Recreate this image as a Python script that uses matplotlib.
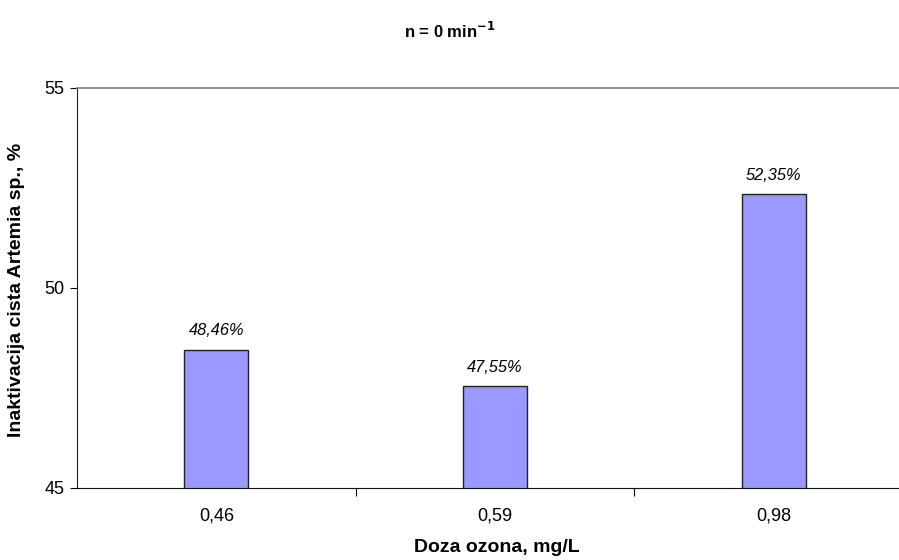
import matplotlib.pyplot as plt
import numpy as np

# data
doses = ['0,46', '0,59', '0,98']
inactivation = [48.46, 47.55, 52.35]
value_labels = ['48,46%', '47,55%', '52,35%']

plt.rcParams['font.family'] = ['Liberation Sans', 'DejaVu Sans']

fig = plt.figure(figsize=(8.99, 5.6), dpi=100)
# axes run past the right edge of the picture, like the cropped original
ax = fig.add_axes([77 / 899, 1 - 488 / 560, 836 / 899, 400 / 560])

x = np.arange(len(doses))
bars = ax.bar(x, inactivation, width=0.23, color='#9999FF',
              edgecolor='#222222', linewidth=1.0, bottom=0)

ax.set_ylim(45, 55)
ax.set_xlim(-0.5, len(doses) - 0.5)
ax.set_yticks([45, 50, 55])
ax.tick_params(axis='y', direction='out', length=5, width=0.8, labelsize=13, pad=4)

# category labels centred, ticks on category boundaries
ax.set_xticks(x)
ax.set_xticklabels(doses, fontsize=13)
ax.tick_params(axis='x', which='major', length=0, pad=14)
ax.set_xticks(x[:-1] + 0.5, minor=True)
ax.tick_params(axis='x', which='minor', direction='out', length=6, width=0.8)

for b, lab in zip(bars, value_labels):
    ax.annotate(lab, (b.get_x() + b.get_width() / 2, b.get_height()),
                xytext=(0, 8), textcoords='offset points', ha='center',
                va='bottom', fontsize=11.8, style='italic')

ax.spines['right'].set_visible(False)
ax.spines['top'].set_color('#808080')
ax.spines['top'].set_linewidth(1.2)
ax.spines['left'].set_color('#222222')
ax.spines['bottom'].set_color('#111111')

fig.text(17 / 899, 1 - 290 / 560, 'Inaktivacija cista Artemia sp., %', rotation=90,
         ha='center', va='center', fontsize=14, fontweight='bold')
fig.text(497 / 899, 1 - 548 / 560, 'Doza ozona, mg/L', ha='center', va='center',
         fontsize=14, fontweight='bold')
fig.text(450 / 899, 1 - 31 / 560, r'n = 0 min$^{\mathbf{-1}}$', ha='center', va='center',
         fontsize=12, fontweight='bold')

fig.savefig('out.png', dpi=100)
